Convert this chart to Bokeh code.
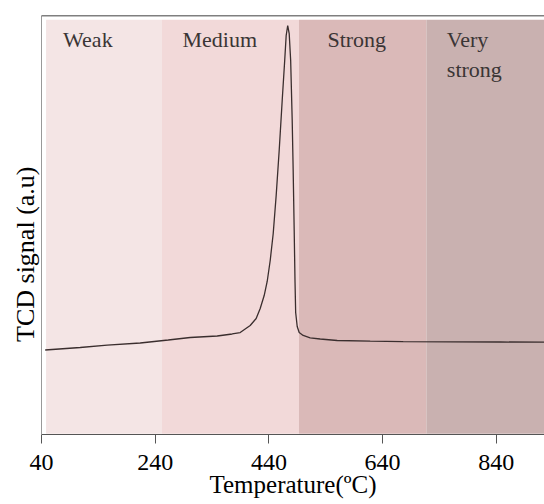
from bokeh.plotting import figure
from bokeh.models import Range1d, Span, Label, FixedTicker
from bokeh.embed import file_html
from bokeh.resources import INLINE

# --- data ---
temperature = [46.5, 108.1, 155.6, 213.6, 262.9, 301.6, 349.1, 375.4, 389.5, 407.1,
               417.6, 424.7, 431.7, 437.0, 442.3, 447.6, 452.8, 458.1, 463.4, 467.8,
               470.4, 473.1, 475.7, 478.3, 481.0, 482.7, 484.5, 485.9, 487.1, 489.8,
               493.3, 500.3, 512.6, 530.2, 560.1, 618.2, 676.2, 758.9, 846.8, 924.5]
signal = [20.17, 20.76, 21.31, 21.84, 22.55, 23.15, 23.51, 23.99, 24.34, 26.01,
          27.68, 30.07, 33.17, 36.52, 41.53, 47.97, 57.04, 67.78, 79.71, 89.26,
          95.23, 97.61, 95.70, 89.26, 74.94, 63.01, 48.69, 36.75, 29.12, 25.78,
          24.34, 23.63, 23.08, 22.79, 22.43, 22.27, 22.15, 22.10, 22.08, 22.03]

region_names = ["Weak", "Medium", "Strong", "Very\nstrong"]
region_start = [48, 252, 493, 717]
region_end = [252, 493, 717, 930]
region_colors = ["#f4e5e5", "#f2d9d9", "#dab9b8", "#c9b1b0"]
label_x = [78, 288, 543, 753]

x_ticks = [40, 240, 440, 640, 840]

FONT = "Liberation Serif"

p = figure(width=544, height=504,
           output_backend="svg", toolbar_location=None,
           x_range=Range1d(40, 924.8), y_range=Range1d(0, 100),
           min_border_left=41, min_border_right=0, min_border_top=15,
           min_border_bottom=70)
p.background_fill_color = "white"
p.outline_line_color = None
p.xgrid.visible = False
p.ygrid.visible = False

p.quad(left=region_start, right=region_end, bottom=0.2, top=99.0,
       fill_color=region_colors, line_color=None)

p.line(temperature, signal, line_color="#3a2e2e", line_width=1.3)

for name, lx in zip(region_names, label_x):
    p.add_layout(Label(x=lx, y=97.2, text=name, text_font=FONT,
                       text_font_size="22px", text_color="#3a3535",
                       text_baseline="top", text_align="left",
                       text_line_height=1.2))

p.add_layout(Span(location=100, dimension="width", line_color="black",
                  line_width=1.5))

# x axis
p.xaxis.ticker = FixedTicker(ticks=x_ticks)
p.xaxis.axis_label = "Temperature(ºC)"
p.xaxis.axis_label_text_font = FONT
p.xaxis.axis_label_text_font_style = "normal"
p.xaxis.axis_label_text_font_size = "25px"
p.xaxis.axis_label_text_color = "black"
p.xaxis.axis_label_standoff = -2
p.xaxis.major_label_text_font = FONT
p.xaxis.major_label_text_font_size = "24px"
p.xaxis.major_label_text_color = "black"
p.xaxis.major_label_standoff = 11
p.xaxis.major_tick_in = 0
p.xaxis.major_tick_out = 9
p.xaxis.minor_tick_in = 0
p.xaxis.minor_tick_out = 0
p.xaxis.axis_line_color = "#555555"
p.xaxis.major_tick_line_color = "#555555"

# y axis (no ticks)
p.yaxis.ticker = FixedTicker(ticks=[])
p.yaxis.major_tick_in = 0
p.yaxis.major_tick_out = 0
p.yaxis.minor_tick_in = 0
p.yaxis.minor_tick_out = 0
p.yaxis.axis_line_color = "#999999"
p.yaxis.axis_label = "TCD signal (a.u)" + "\u00a0" * 9
p.yaxis.axis_label_text_font = FONT
p.yaxis.axis_label_text_font_style = "normal"
p.yaxis.axis_label_text_font_size = "26px"
p.yaxis.axis_label_text_color = "black"
p.yaxis.axis_label_standoff = 2

open("out.html", "w").write(file_html(p, INLINE))
